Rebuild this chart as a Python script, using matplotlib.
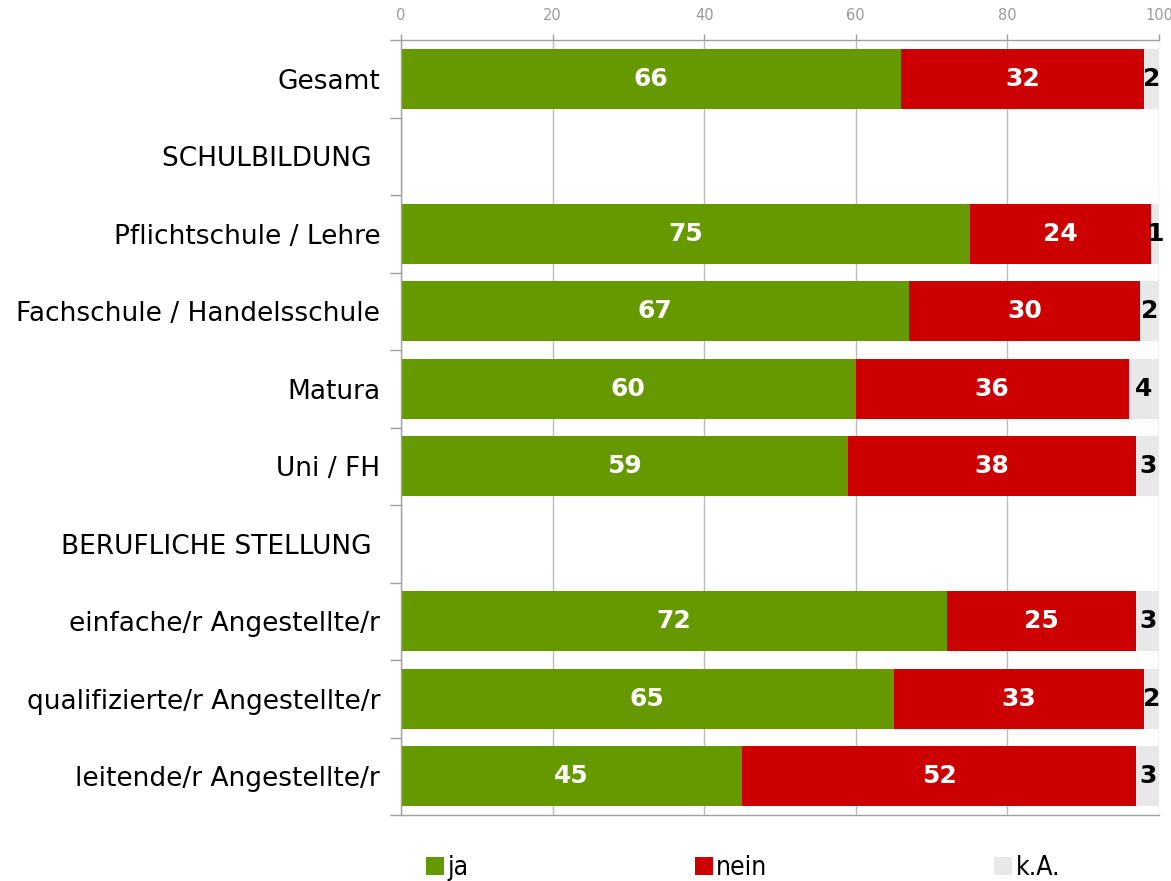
import matplotlib
matplotlib.use("Agg")
import matplotlib.pyplot as plt
import numpy as np
from matplotlib.patches import Patch

categories = [
    "Gesamt",
    "SCHULBILDUNG ",
    "Pflichtschule / Lehre",
    "Fachschule / Handelsschule",
    "Matura",
    "Uni / FH",
    "BERUFLICHE STELLUNG ",
    "einfache/r Angestellte/r",
    "qualifizierte/r Angestellte/r",
    "leitende/r Angestellte/r",
]
# None = header rows without bars
ja = [66, None, 75, 67, 60, 59, None, 72, 65, 45]
nein = [32, None, 24, 30.5, 36, 38, None, 25, 33, 52]
ka = [2, None, 1, 2.5, 4, 3, None, 3, 2, 3]
series_names = ["ja", "nein", "k.A."]

GREEN = "#669900"
RED = "#CC0000"
GREY = "#E8E8E8"
AXIS_GREY = "#A0A0A0"

plt.rcParams["font.family"] = ["DejaVu Sans"]

fig = plt.figure(figsize=(11.71, 8.81), dpi=100)
ax = fig.add_axes([401 / 1171, 1 - 815 / 881, 758 / 1171, 775 / 881])

y = np.arange(len(categories))
bar_h = 0.77

for i in y:
    if ja[i] is None:
        continue
    left = 0
    for val, col, tcol in ((ja[i], GREEN, "white"), (nein[i], RED, "white"), (ka[i], GREY, "black")):
        ax.barh(i, val, left=left, height=bar_h, color=col, edgecolor="none", zorder=2)
        ax.text(left + val / 2, i, f"{val:.0f}", ha="center", va="center",
                color=tcol, fontsize=18, fontweight="bold", zorder=3)
        left += val

ax.set_xlim(0, 100)
ax.set_ylim(len(categories) - 0.5, -0.5)

ax.xaxis.tick_top()
ax.set_xticks([0, 20, 40, 60, 80, 100])
ax.tick_params(axis="x", colors=AXIS_GREY, length=4, width=1, labelsize=10.5,
               pad=8, labelcolor="#999999")
for lab in ax.get_xticklabels():
    lab.set_fontfamily(["Liberation Sans Narrow", "DejaVu Sans"])
ax.grid(axis="x", color="#BBBBBB", linewidth=1, zorder=0)

ax.set_yticks(y)
ax.set_yticklabels(categories, fontsize=19, color="black")
ax.tick_params(axis="y", which="major", length=0, pad=15)
ax.set_yticks(np.arange(-0.5, len(categories), 1), minor=True)
ax.tick_params(axis="y", which="minor", length=8, color=AXIS_GREY, width=1)

for side in ("top", "bottom", "left", "right"):
    ax.spines[side].set_color(AXIS_GREY)
    ax.spines[side].set_linewidth(1)
ax.spines["right"].set_visible(False)

handles = [Patch(facecolor=c, edgecolor="none") for c in (GREEN, RED, GREY)]
fig.legend(handles, series_names, loc="center left", ncol=3,
           bbox_to_anchor=(426 / 1171, 1 - 868 / 881), frameon=False,
           borderpad=0, borderaxespad=0,
           handlelength=0.68, handleheight=0.68, handletextpad=0.12,
           columnspacing=8.6,
           prop={"family": "DejaVu Sans", "stretch": "condensed", "size": 19})

fig.savefig("out.png", dpi=100)
